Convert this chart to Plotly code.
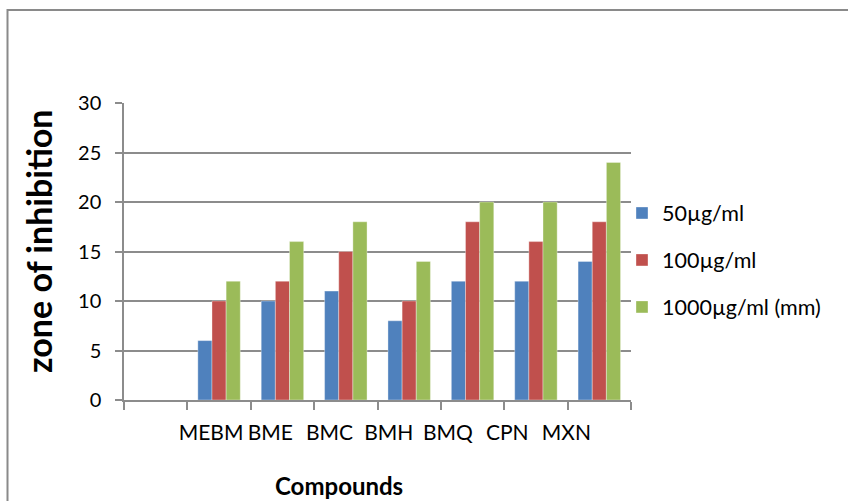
import plotly.graph_objects as go

# Zone of inhibition (mm) for each compound at three concentrations
compounds = ["MEBM", "BME", "BMC", "BMH", "BMQ", "CPN", "MXN"]
conc_50 = [6, 10, 11, 8, 12, 12, 14]
conc_100 = [10, 12, 15, 10, 18, 16, 18]
conc_1000 = [12, 16, 18, 14, 20, 20, 24]

series_names = ["50µg/ml", "100µg/ml", "1000µg/ml (mm)"]
series_colors = ["#4F81BD", "#C0504D", "#9BBB59"]
y_ticks = [0, 5, 10, 15, 20, 25, 30]

# a blank leading slot keeps the first group off the value axis
slots = [" "] + compounds

W, H = 848, 501
L, R, T, B = 124, 217, 103, 101
pw, ph = W - L - R, H - T - B


def px_x(p):
    return (p - L) / pw


def px_y(p):
    return 1 - (p - T) / ph


FONT = "Lato, Open Sans, sans-serif"
GRID = "#8c8c8c"

fig = go.Figure()
for i, (name, vals, col) in enumerate(zip(series_names, [conc_50, conc_100, conc_1000], series_colors)):
    fig.add_trace(go.Bar(
        x=slots, y=[None] + vals, name=name, legendgroup=f"g{i}",
        marker=dict(color=col, line=dict(color="rgba(255,255,255,0.35)", width=1)),
    ))

# label carrier for the category names
fig.add_trace(go.Scatter(
    x=slots, y=[0] * len(slots), xaxis="x2", mode="markers",
    marker=dict(opacity=0), showlegend=False, hoverinfo="skip",
))

fig.update_layout(
    width=W, height=H,
    margin=dict(l=L, r=R, t=T, b=B),
    paper_bgcolor="white", plot_bgcolor="white",
    barmode="group", bargap=0.33, bargroupgap=0,
    font=dict(family=FONT, size=19, color="#000"),
    xaxis=dict(
        type="category", categoryorder="array", categoryarray=slots,
        showticklabels=False, ticks="outside", tickson="boundaries",
        ticklen=8, tickwidth=1.5, tickcolor=GRID,
        showline=True, linecolor=GRID, linewidth=1.5,
        showgrid=False, zeroline=False,
    ),
    xaxis2=dict(
        type="category", categoryorder="array", categoryarray=slots,
        overlaying="x", anchor="y", side="bottom",
        range=[-0.47, 8.09], showgrid=False, showline=False, zeroline=False,
        ticks="", tickfont=dict(family=FONT, size=21), ticklabelstandoff=18,
    ),
    yaxis=dict(
        range=[0, 30], tickvals=y_ticks, ticks="outside", ticklen=7,
        tickwidth=1.5, tickcolor=GRID, tickfont=dict(family=FONT, size=20),
        ticklabelstandoff=10,
        showgrid=True, gridcolor=GRID, gridwidth=1.5,
        showline=True, linecolor=GRID, linewidth=1.5, zeroline=False,
    ),
    legend=dict(
        x=px_x(622), xanchor="left", y=px_y(260), yanchor="middle",
        font=dict(family=FONT, size=21.5), tracegroupgap=16,
        traceorder="grouped", bgcolor="rgba(0,0,0,0)",
    ),
    annotations=[
        dict(text="<b>zone of inhibition</b>", textangle=-90,
             x=px_x(38), y=px_y(241), xref="paper", yref="paper",
             xanchor="center", yanchor="middle", showarrow=False,
             font=dict(family=FONT, size=34)),
        dict(text="<b>Compounds</b>",
             x=px_x(339), y=px_y(485), xref="paper", yref="paper",
             xanchor="center", yanchor="middle", showarrow=False,
             font=dict(family=FONT, size=24)),
    ],
    shapes=[
        dict(type="rect", xref="paper", yref="paper",
             x0=px_x(7.5), x1=px_x(860), y0=px_y(520), y1=px_y(10),
             line=dict(color="#8a8a8a", width=2), fillcolor="rgba(0,0,0,0)",
             layer="below"),
    ],
)

fig.write_html("out.html")
